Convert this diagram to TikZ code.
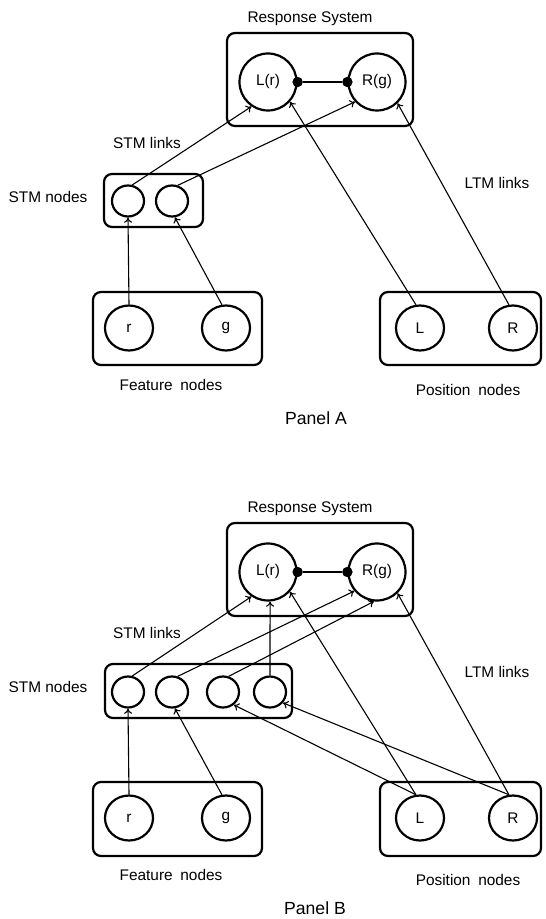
\documentclass[tikz,border=0pt]{standalone}
\usepackage{fontspec}
\setmainfont{Liberation Sans}
\usetikzlibrary{shapes.geometric}
\usetikzlibrary{arrows.meta}

\tikzset{
  every node/.style={font=\fontsize{7.7}{9}\selectfont},
  grp/.style={draw, rounded corners=4pt, line width=1.1pt, inner sep=0pt},
  resp/.style={circle, draw, line width=1.1pt, minimum size=28.5pt, inner sep=0pt},
  stmnode/.style={ellipse, draw, line width=1.1pt, minimum width=16pt, minimum height=15.5pt, inner sep=0pt},
  inpnode/.style={ellipse, draw, line width=1.1pt, minimum width=24pt, minimum height=22.5pt, inner sep=0pt},
  dot/.style={circle, fill=black, minimum size=5.2pt, inner sep=0pt},
  link/.style={line width=0.55pt, -{To[length=2.6pt,width=4pt]}},
  panel/.style={font=\fontsize{8.8}{10}\selectfont}
}

\begin{document}
\begin{tikzpicture}[x=0.5pt, y=-0.5pt]
\useasboundingbox (0,0) rectangle (545,919);

% Panel A
\node[grp, minimum width=93pt, minimum height=46.5pt] (respA) at (320,79.5) {};
\node[grp, minimum width=49.5pt, minimum height=26.5pt] (stmA) at (153.5,200.5) {};
\node[grp, minimum width=84.5pt, minimum height=36.5pt] (featA) at (177.5,328.5) {};
\node[grp, minimum width=80.5pt, minimum height=36.5pt] (posA) at (460.5,328.5) {};

\node[resp] (LrA) at (268,82) {L(r)};
\node[resp] (RgA) at (377,82) {R(g)};
\node[dot] (dLA) at (LrA.east) {};
\node[dot] (dRA) at (RgA.west) {};
\draw[line width=0.6pt] (dLA) -- (dRA);

\node[stmnode] (S1A) at (128,201) {};
\node[stmnode] (S2A) at (172,201) {};
\node[inpnode] (rA) at (129,328) {r};
\node[inpnode] (gA) at (226,328) {g};
\node[inpnode] (LA) at (420,328) {L};
\node[inpnode] (RA) at (513,328) {R};

\node (tRespA) at (310,19) {Response System};
\node (tStmlA) at (147,143) {STM links};
\node (tStmnA) at (48,197) {STM nodes};
\node (tLtmA) at (497,183) {LTM links};
\node (tFeatA) at (171,385) {Feature\enspace nodes};
\node (tPosA) at (468,390) {Position\enspace nodes};
\node[panel] (tPanelA) at (316,418) {Panel A};

\draw[link] (S1A.75) -- (LrA.-124);
\draw[link] (S2A.70) -- (RgA.-138);
\draw[link] (rA.north) -- (S1A.south);
\draw[link] (gA.100) -- (S2A.-80);
\draw[link] (LA.100) -- (LrA.-42);
\draw[link] (RA.100) -- (RgA.-46);

% Panel B
\node[grp, minimum width=93pt, minimum height=46.5pt] (respB) at (320,569.5) {};
\node[grp, minimum width=93.5pt, minimum height=27pt] (stmB) at (198.5,691) {};
\node[grp, minimum width=84.5pt, minimum height=37pt] (featB) at (177.5,819) {};
\node[grp, minimum width=80.5pt, minimum height=37pt] (posB) at (460.5,819) {};

\node[resp] (LrB) at (268,572) {L(r)};
\node[resp] (RgB) at (377,572) {R(g)};
\node[dot] (dLB) at (LrB.east) {};
\node[dot] (dRB) at (RgB.west) {};
\draw[line width=0.6pt] (dLB) -- (dRB);

\node[stmnode] (S1B) at (128,692) {};
\node[stmnode] (S2B) at (172,692) {};
\node[stmnode] (S3B) at (223,692) {};
\node[stmnode] (S4B) at (270,692) {};
\node[inpnode] (rB) at (129,818) {r};
\node[inpnode] (gB) at (226,818) {g};
\node[inpnode] (LB) at (420,818) {L};
\node[inpnode] (RB) at (513,818) {R};

\node (tRespB) at (310,509) {Response System};
\node (tStmlB) at (147,633) {STM links};
\node (tStmnB) at (48,687) {STM nodes};
\node (tLtmB) at (497,672) {LTM links};
\node (tFeatB) at (171,875) {Feature\enspace nodes};
\node (tPosB) at (468,880) {Position\enspace nodes};
\node[panel] (tPanelB) at (315,908) {Panel B};

\draw[link] (S1B.75) -- (LrB.-124);
\draw[link] (S2B.70) -- (RgB.-140);
\draw[link] (S3B.70) -- (RgB.-96);
\draw[link] (S4B.north) -- (LrB.-86);
\draw[link] (rB.north) -- (S1B.south);
\draw[link] (gB.100) -- (S2B.-80);
\draw[link] (LB.100) -- (LrB.-42);
\draw[link] (RB.100) -- (RgB.-46);
\draw[link] (LB.100) -- (S3B.-50);
\draw[link] (RB.100) -- (S4B.-40);

\end{tikzpicture}
\end{document}
